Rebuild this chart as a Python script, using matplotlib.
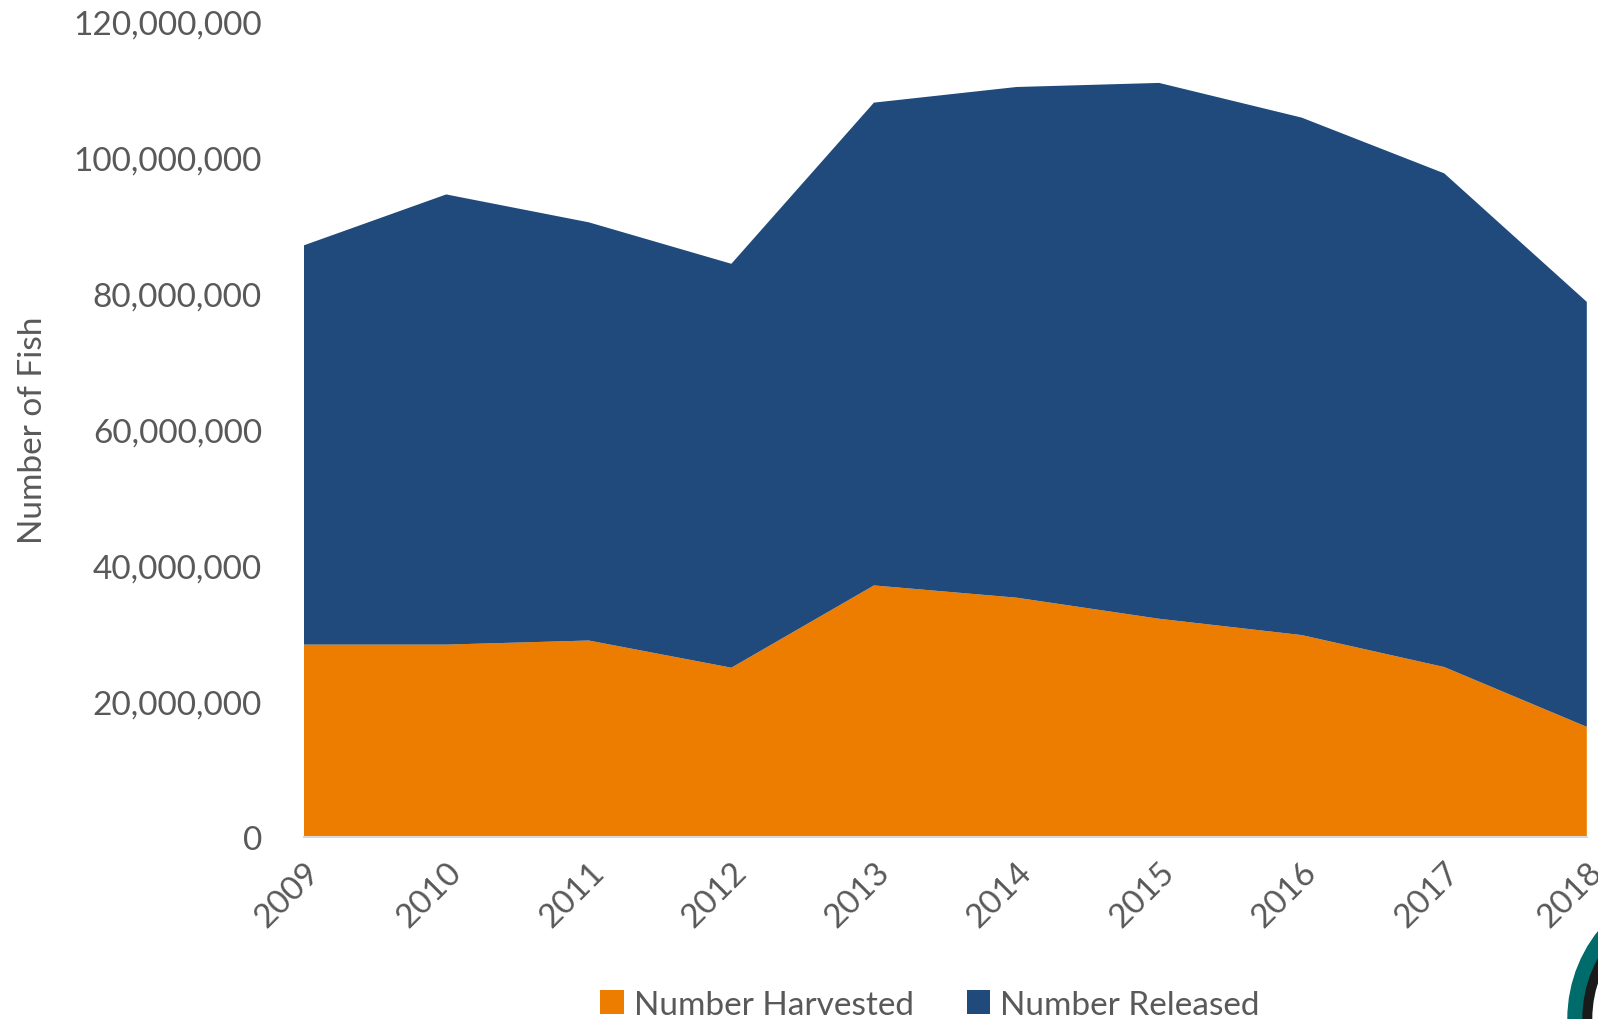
import numpy as np
import matplotlib.pyplot as plt
from matplotlib.ticker import FuncFormatter
from matplotlib.patches import Circle

plt.rcParams['font.family'] = ['Lato', 'DejaVu Sans']

years = [2009, 2010, 2011, 2012, 2013, 2014, 2015, 2016, 2017, 2018]
harvested = [28.3e6, 28.3e6, 28.9e6, 24.9e6, 37.0e6, 35.2e6, 32.1e6, 29.7e6, 25.0e6, 16.2e6]
total = [87.0e6, 94.5e6, 90.4e6, 84.3e6, 108.0e6, 110.3e6, 110.9e6, 105.8e6, 97.6e6, 78.7e6]
released = [t - h for t, h in zip(total, harvested)]

orange = '#ED7D00'
blue = '#214A7C'
grey = '#595959'

fig = plt.figure(figsize=(15.98, 10.2), dpi=100)
ax = fig.add_axes([0.190, 0.1784, 0.803, 0.8])

ax.stackplot(years, harvested, released, colors=[orange, blue],
             labels=['Number Harvested', 'Number Released'], linewidth=0)

ax.set_xlim(years[0], years[-1])
ax.set_ylim(0, 120e6)
ax.set_yticks(np.arange(0, 120e6 + 1, 20e6))
ax.yaxis.set_major_formatter(FuncFormatter(lambda v, p: f'{int(v):,}'))
ax.set_xticks(years)
ax.set_xticklabels([str(y) for y in years], rotation=45, ha='right',
                   rotation_mode='anchor')

for s in ['top', 'right', 'left']:
    ax.spines[s].set_visible(False)
ax.spines['bottom'].set_color('#D9D9D9')
ax.spines['bottom'].set_linewidth(1.5)
ax.tick_params(axis='both', length=0, labelsize=24, colors=grey)
ax.tick_params(axis='y', pad=30)
ax.tick_params(axis='x', pad=14)

ax.set_ylabel('Number of Fish', fontsize=24, color=grey, labelpad=18)

leg = fig.legend(loc='lower center', bbox_to_anchor=(0.582, -0.03), ncol=2,
                 frameon=False, fontsize=24, handlelength=0.7, handleheight=0.7,
                 handletextpad=0.3, columnspacing=1.6)
for t in leg.get_texts():
    t.set_color(grey)

# partial logo peeking in at the lower right corner
fig.patches.append(Circle((1709, 0), 141, transform=None, color='#006B6B', zorder=5))
fig.patches.append(Circle((1709, 0), 126, transform=None, color='#1A1A1A', zorder=6))
fig.patches.append(Circle((1709, 0), 116, transform=None, color='white', zorder=7))

fig.savefig('out.png', dpi=100)
